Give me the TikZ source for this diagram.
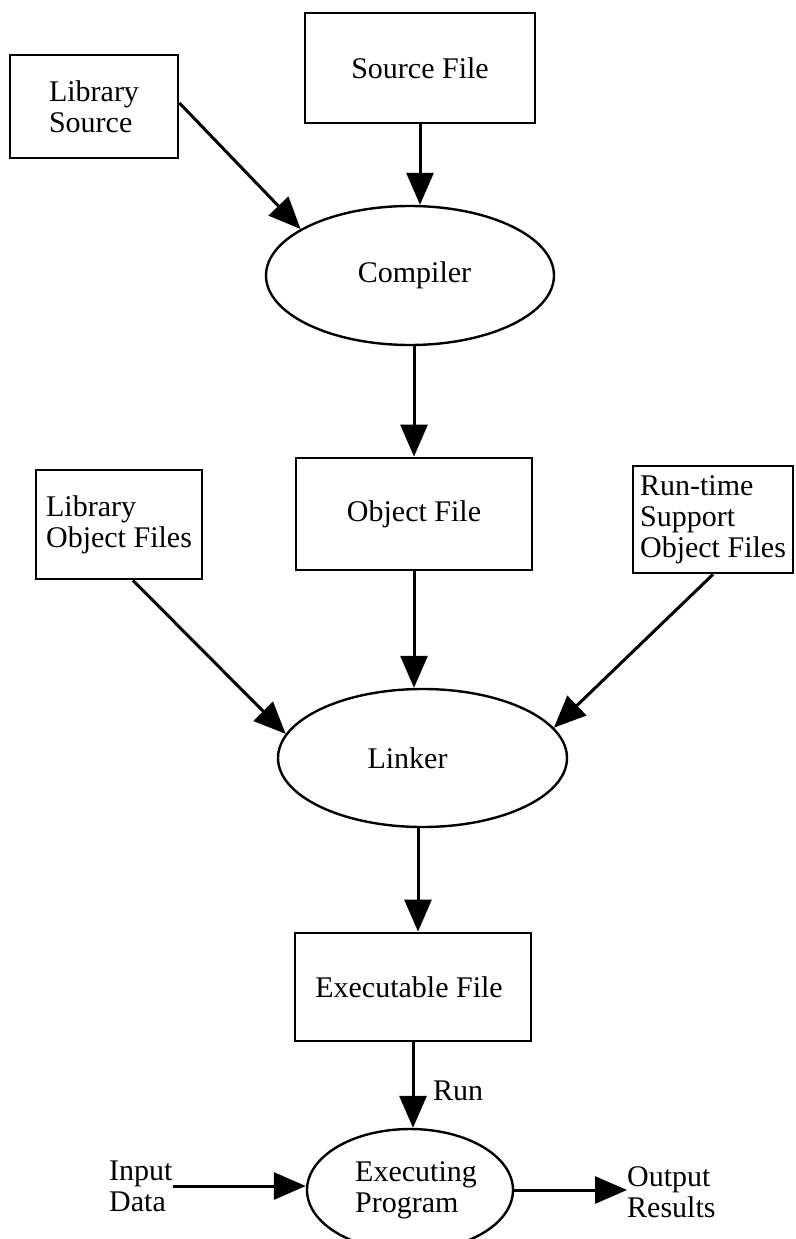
\documentclass[tikz,border=0pt]{standalone}
\usepackage{fontspec}
\setmainfont{Liberation Serif}
\usetikzlibrary{arrows.meta,shapes.geometric}
\begin{document}
\begin{tikzpicture}[x=1pt,y=-1pt,
  every node/.style={font=\fontsize{30}{31}\selectfont, align=left, inner sep=0pt},
  filebox/.style={draw, rectangle, line width=2.8pt},
  process/.style={draw, ellipse, line width=2.4pt},
  flow/.style={line width=3pt, -{Triangle[length=32pt,width=27pt]}},
  plaintext/.style={}]
\useasboundingbox (0,0) rectangle (795,1239);
\clip (0,0) rectangle (795,1239);

% files and tools
\node[filebox, minimum width=168pt, minimum height=103pt] (libsrc) at (94,106.5) {Library\\Source};
\node[filebox, minimum width=230pt, minimum height=110pt] (srcfile) at (420,68) {Source File};
\node[process, minimum width=288pt, minimum height=139pt] (compiler) at (410,275.5) {\hspace*{9pt}Compiler};
\node[filebox, minimum width=236pt, minimum height=112pt] (objfile) at (414,514) {Object File};
\node[filebox, minimum width=166pt, minimum height=109pt] (libobj) at (119,524.5) {Library\\Object Files};
\node[filebox, minimum width=160pt, minimum height=107pt] (rtobj) at (713,519.5) {Run-time\\Support\\Object Files};
\node[process, minimum width=289pt, minimum height=138pt] (linker) at (422.5,758) {Linker\hspace*{30pt}};
\node[filebox, minimum width=236pt, minimum height=108pt] (exefile) at (413,987) {Executable File\hspace*{8pt}};
\node[process, minimum width=206pt, minimum height=122pt] (exec) at (410,1190) {\hspace*{12pt}Executing\\\hspace*{12pt}Program};

% free text
\node[plaintext, anchor=base west] (run) at (433,1100) {Run};
\node[plaintext, anchor=west] (input) at (109,1186) {Input\\Data};
\node[plaintext, anchor=west] (output) at (627,1192) {Output\\Results};

% connectors
\draw[flow] ([yshift=3.5pt]libsrc.east) -- (compiler.157);
\draw[flow] (srcfile.south) -- (srcfile.south |- compiler.north);
\draw[flow] (compiler.south -| objfile.north) -- (objfile.north);
\draw[flow] (objfile.south) -- (objfile.south |- linker.north);
\draw[flow] ([xshift=14pt]libobj.south) -- (linker.170);
\draw[flow] (rtobj.south) -- (linker.13);
\draw[flow] ([xshift=-4.5pt]linker.south) -- ([xshift=-4.5pt]linker.south |- exefile.north);
\draw[flow] (exefile.south) -- (exefile.south |- exec.north);
\draw[flow] (input.east) -- (input.east -| exec.west);
\draw[flow] (exec.east) -- (exec.east -| output.west);
\end{tikzpicture}
\end{document}
